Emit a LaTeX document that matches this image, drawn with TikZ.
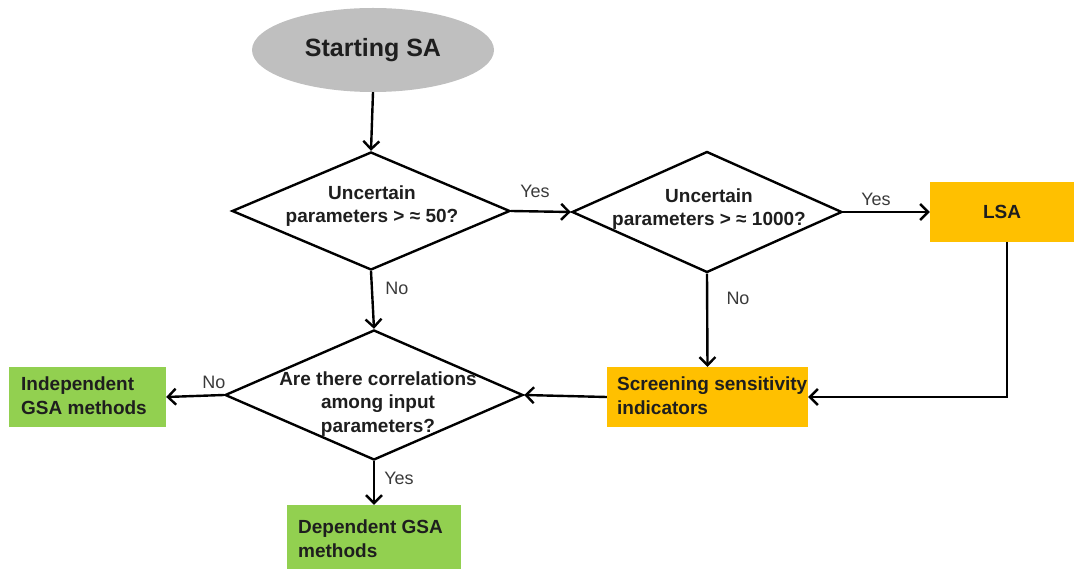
\documentclass[tikz,border=0pt]{standalone}
\usepackage{fontspec}
\setmainfont{Liberation Sans}
\usetikzlibrary{shapes.geometric,arrows.meta}
\definecolor{ellgray}{HTML}{BFBFBF}
\definecolor{boxorange}{HTML}{FFC000}
\definecolor{boxgreen}{HTML}{92D050}
\definecolor{txtdark}{HTML}{1E1E1E}
\definecolor{lblgray}{HTML}{3A3A3A}
\tikzset{
  ntext/.style={font=\fontsize{19}{23.5}\selectfont\bfseries, text=txtdark, align=center, inner sep=0pt},
  lbl/.style={font=\fontsize{18}{22}\selectfont, text=lblgray, inner sep=0pt},
  dia/.style={diamond, draw=black, line width=2.4pt, inner sep=0pt},
  startell/.style={ellipse, fill=ellgray, minimum width=242pt, minimum height=84pt, inner sep=0pt,
    font=\fontsize{25}{30}\selectfont\bfseries, text=txtdark},
  fbox/.style={rectangle, inner xsep=10pt, inner ysep=0pt, align=left,
    font=\fontsize{19}{24}\selectfont\bfseries, text=txtdark},
  ltext/.style={inner sep=0pt, align=left, anchor=west,
    font=\fontsize{19}{24}\selectfont\bfseries, text=txtdark},
  conn/.style={line width=2.4pt, -{Straight Barb[length=8pt,width=16pt]}}
}
\begin{document}
\begin{tikzpicture}[x=1pt,y=-1pt]
\useasboundingbox (0,0) rectangle (1074,569);
% nodes
\node[startell] (start) at (373,50) {Starting SA};
\node[dia, minimum width=278pt, minimum height=118pt] (d1) at (371,211) {};
\node[ntext] (t1) at (372,206) {Uncertain\\parameters > ≈ 50?};
\node[dia, minimum width=270pt, minimum height=121pt] (d2) at (707,212) {};
\node[ntext] (t2) at (709,209) {Uncertain\\parameters > ≈ 1000?};
\node[fbox, fill=boxorange, minimum width=144pt, minimum height=60pt, align=center] (lsa) at (1002,212) {LSA};
\node[fbox, fill=boxorange, minimum width=201pt, minimum height=60pt] (scr) at (707.5,397) {};
\node[ltext] (scrt) at (617,396) {Screening sensitivity\\indicators};
\node[dia, minimum width=298pt, minimum height=130pt] (d3) at (374,395) {};
\node[ntext] (t3) at (378,404) {Are there correlations\\among input\\parameters?};
\node[fbox, fill=boxgreen, minimum width=157pt, minimum height=60pt] (ind) at (87.5,397) {};
\node[ltext] (indt) at (21,396) {Independent\\GSA methods};
\node[fbox, fill=boxgreen, minimum width=174pt, minimum height=64pt] (dep) at (374,537) {};
\node[ltext] (dept) at (298,539) {Dependent GSA\\methods};
\coordinate (lsadown) at (1007,242);
% connectors
\draw[conn] (start.south) -- (d1.north);
\draw[conn] (d1.east) -- (d2.west);
\draw[conn] (d2.east) -- (lsa.west);
\draw[conn] (d2.south) -- (scr.north);
\draw[conn] (lsadown) |- (scr.east);
\draw[conn] (scr.west) -- (d3.east);
\draw[conn] (d1.south) -- (d3.north);
\draw[conn] (d3.west) -- (ind.east);
\draw[conn] (d3.south) -- (dep.north);
% labels
\node[lbl] (y1) at (535,191) {Yes};
\node[lbl] (y2) at (876,199) {Yes};
\node[lbl] (n1) at (397,288) {No};
\node[lbl] (n2) at (738,298) {No};
\node[lbl] (n3) at (214,382) {No};
\node[lbl] (y3) at (399,478) {Yes};
\end{tikzpicture}
\end{document}
